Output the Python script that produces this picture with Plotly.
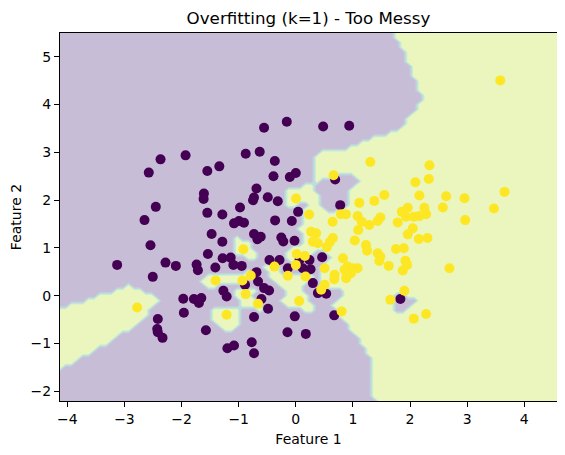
import numpy as np
import plotly.graph_objects as go

# ---- data ----
class0_x = [-0.556, -0.158, 0.479, 0.935, -2.368, -1.930, -2.574, -1.549, -1.339, -0.877,
            -0.632, -0.368, -0.391, -0.105, 0.000, -0.689, -0.732, -0.749, -0.491, -0.316,
            -1.609, -1.614, -2.451, -2.649, -1.549, -1.286, -0.977, -1.082, -0.995, -0.907,
            -0.363, -0.070, 0.040, -1.474, -0.732, -0.614, -0.672, -0.254, -0.219, -0.023,
            -1.286, -2.544, -2.281, -2.100, -1.737, -1.714, -1.539, -1.281, -1.140, -1.093,
            -0.947, -1.409, -2.504, -0.461, -0.286, -0.140, -0.689, -0.889, -0.661, -0.556,
            -0.468, -0.602, -0.486, -1.268, -1.211, -1.970, -1.784, -1.654, -1.696, -1.960,
            -0.732, -0.018, -2.416, -2.426, -2.416, -2.333, -1.574, -0.146, -0.772, -1.198,
            -1.082, -0.732, -3.128, 0.689, 0.777, 0.065, 0.240, 0.123, 0.258, 0.461,
            0.298, 0.386, 0.532, 0.672, 0.175, 1.830]
class0_y = [3.515, 3.640, 3.542, 3.556, 2.854, 2.938, 2.577, 2.610, 2.708, 2.973,
            3.015, 2.819, 2.500, 2.485, 2.569, 2.244, 2.056, 2.000, 2.063, 1.979,
            2.140, 2.027, 1.860, 1.583, 1.735, 1.702, 1.848, 1.515, 1.563, 1.527,
            1.577, 1.563, 1.756, 1.292, 1.292, 1.235, 1.181, 1.219, 1.135, 1.152,
            1.131, 1.056, 0.694, 0.625, 0.652, 0.535, 0.875, 0.785, 0.798, 0.646,
            0.625, 0.590, 0.396, 0.750, 0.750, 0.577, 0.494, 0.229, 0.298, 0.160,
            0.110, -0.069, -0.271, 0.104, -0.015, -0.063, -0.069, -0.048, -0.152, -0.354,
            -0.444, -0.431, -0.485, -0.694, -0.765, -0.881, -0.723, -0.765, -0.973, -1.098,
            -1.042, -1.202, 0.646, 2.431, 1.896, 0.750, 0.750, 0.577, 0.556, 0.806,
            0.265, 0.056, 0.042, -0.410, -0.798, -0.069]

class1_x = [0.005, -0.918, -0.374, -0.140, 0.018, 0.158, 0.000, -1.404, -0.789, -0.935,
            -0.877, -0.661, -1.211, 0.058, -2.777, 1.304, 2.339, 0.661, 2.093, 2.328,
            2.632, 2.574, 2.163, 1.549, 1.374, 1.111, 0.233, 0.644, 0.789, 0.877,
            1.082, 1.153, 1.093, 1.286, 1.433, 1.479, 1.784, 1.854, 1.960, 1.930,
            2.065, 2.163, 2.281, 2.251, 2.047, 1.960, 2.153, 2.304, 0.268, 0.356,
            0.298, 0.386, 0.596, 0.649, 0.544, 1.032, 1.228, 1.246, 1.433, 1.479,
            1.461, 1.626, 1.754, 1.889, 1.918, 1.947, 1.872, 2.689, 0.825, 0.907,
            0.995, 0.854, 1.082, 0.965, 0.882, 0.679, 0.672, 0.504, 0.170, 0.504,
            0.444, 0.802, 1.900, 1.654, 2.065, 2.281, 3.579, 2.953, 3.654, 3.468,
            2.965]
class1_y = [2.035, 0.973, 0.610, 0.417, 0.875, 0.833, 0.646, 0.319, 0.423, 0.319,
            0.035, -0.167, -0.396, -0.110, -0.244, 2.798, 2.729, 2.521, 2.375, 2.444,
            2.083, 1.848, 2.098, 2.110, 1.985, 1.944, 1.702, 1.548, 1.708, 1.708,
            1.667, 1.548, 1.375, 1.479, 1.563, 1.640, 1.535, 1.756, 1.840, 1.652,
            1.652, 1.667, 1.708, 1.840, 1.410, 1.285, 1.188, 1.208, 1.340, 1.306,
            1.131, 1.098, 1.125, 1.208, 1.021, 1.156, 1.063, 0.944, 0.890, 0.819,
            0.729, 0.625, 0.979, 0.994, 0.735, 0.646, 0.527, 0.577, 0.785, 0.610,
            0.577, 0.542, 0.577, 0.473, 0.369, 0.438, 0.348, 0.577, 0.402, 0.229,
            0.125, -0.327, 0.104, -0.083, -0.479, -0.381, 4.506, 2.042, 2.173, 1.827,
            1.583]

title_text = "Overfitting (k=1) - Too Messy"
xlabel = "Feature 1"
ylabel = "Feature 2"

# ---- 1-nearest-neighbour decision surface ----
X = np.array(list(zip(class0_x + class1_x, class0_y + class1_y)))
labels = np.array([0] * len(class0_x) + [1] * len(class1_x))
h = 0.1
x_min, x_max = X[:, 0].min() - 1, X[:, 0].max() + 1
y_min, y_max = X[:, 1].min() - 1, X[:, 1].max() + 1
gx = np.arange(x_min, x_max, h)
gy = np.arange(y_min, y_max, h)
xx, yy = np.meshgrid(gx, gy)
grid = np.c_[xx.ravel(), yy.ravel()]
d = ((grid[:, None, :] - X[None, :, :]) ** 2).sum(axis=2)
Z = labels[d.argmin(axis=1)].reshape(xx.shape).astype(float)

def blend(rgb, a=0.3):
    r, g, b = rgb
    return "rgb(%d,%d,%d)" % tuple(round(a * c + (1 - a) * 255) for c in (r, g, b))

band_cols = [(72, 36, 117), (53, 95, 141), (33, 145, 140), (68, 191, 112), (189, 223, 38)]
cscale = [[i / 4, blend(c)] for i, c in enumerate(band_cols)]

fig = go.Figure()
fig.add_trace(go.Contour(
    x=gx, y=gy, z=Z,
    contours=dict(start=0.2, end=0.8, size=0.2, coloring="fill"),
    colorscale=cscale, showscale=False,
    line=dict(width=0, smoothing=0),
    hoverinfo="skip",
))
fig.add_trace(go.Scatter(x=class0_x, y=class0_y, mode="markers",
                         marker=dict(color="#440154", size=10, line=dict(width=0)),
                         showlegend=False))
fig.add_trace(go.Scatter(x=class1_x, y=class1_y, mode="markers",
                         marker=dict(color="#fde725", size=10, line=dict(width=0)),
                         showlegend=False))

axis_common = dict(showgrid=False, zeroline=False, showline=True, linecolor="black",
                   linewidth=1, mirror=True, ticks="outside", ticklen=5, tickwidth=1,
                   tickcolor="black", tickfont=dict(family="DejaVu Sans", size=14, color="black"),
                   dtick=1, automargin=False)
fig.update_xaxes(range=[gx[0], gx[-1]], tick0=0,
                 title=dict(text=xlabel, font=dict(family="DejaVu Sans", size=14, color="black"),
                            standoff=8),
                 **axis_common)
fig.update_yaxes(range=[gy[0], gy[-1]], tick0=0,
                 title=dict(text=ylabel, font=dict(family="DejaVu Sans", size=14, color="black"),
                            standoff=6),
                 **axis_common)
# the page body has an 8px margin, so the figure is sized/offset to land the
# plot area where the reference has it
fig.update_layout(
    width=557, height=447,
    margin=dict(l=52, r=8, t=25, b=54, autoexpand=False),
    paper_bgcolor="white", plot_bgcolor="white",
    title=dict(text=title_text, x=0.5, xref="paper", y=1 - 10 / 447, yref="container",
               yanchor="middle", xanchor="center",
               font=dict(family="DejaVu Sans", size=16.7, color="black")),
    showlegend=False,
)
fig.write_html("out.html")
